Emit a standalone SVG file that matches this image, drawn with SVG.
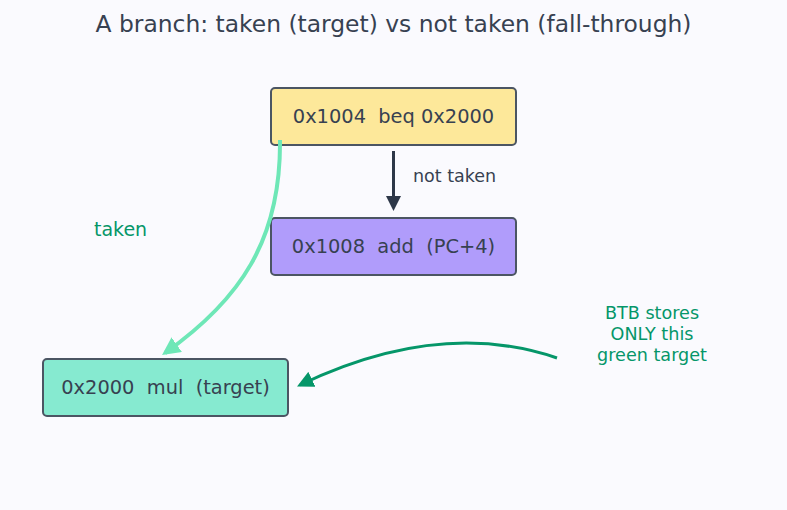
<svg xmlns="http://www.w3.org/2000/svg" width="787" height="510" viewBox="0 0 787 510">
<style>
text{font-family:"DejaVu Sans",sans-serif;white-space:pre}
.box{stroke:#4b5563;stroke-width:2}
.lbl{font-size:19.4px;fill:#374151;text-anchor:middle}
.g{fill:#059669}
.btb{font-size:17.6px;text-anchor:middle}
</style>
<defs>
<marker id="ad" viewBox="0 0 10 10" refX="8" refY="5" markerWidth="5" markerHeight="5.5" orient="auto" markerUnits="strokeWidth"><path d="M0,0L10,5L0,10z" fill="#2d3748"/></marker>
<marker id="al" viewBox="0 0 10 10" refX="8" refY="5" markerWidth="4.5" markerHeight="4.5" orient="auto" markerUnits="strokeWidth"><path d="M0,0L10,5L0,10z" fill="#6ee7b7"/></marker>
<marker id="ag" viewBox="0 0 10 10" refX="8" refY="5" markerWidth="5.5" markerHeight="5.5" orient="auto" markerUnits="strokeWidth"><path d="M0,0L10,5L0,10z" fill="#059669"/></marker>
</defs>
<rect width="787" height="510" fill="#fafafe"/>
<text x="393.5" y="32" font-size="23.4" fill="#374151" text-anchor="middle">A branch: taken (target) vs not taken (fall-through)</text>
<g id="n1"><rect class="box" x="271" y="88" width="245" height="57" rx="4" fill="#fde89a"/><text class="lbl" x="393.5" y="123">0x1004  beq 0x2000</text></g>
<g id="n2"><rect class="box" x="271" y="218" width="245" height="57" rx="4" fill="#b09cfb"/><text class="lbl" x="393.5" y="253">0x1008  add  (PC+4)</text></g>
<g id="n3"><rect class="box" x="43" y="359" width="245" height="57" rx="4" fill="#86ead0"/><text class="lbl" x="165.5" y="394">0x2000  mul  (target)</text></g>
<g id="edges" fill="none">
<path d="M393.5,151 V208" stroke="#2d3748" stroke-width="3" marker-end="url(#ad)"/>
<path d="M280,140 C281,240 240,300 165,353" stroke="#6ee7b7" stroke-width="4" marker-end="url(#al)"/>
<path d="M557,358 Q440,318 300,385" stroke="#059669" stroke-width="3" marker-end="url(#ag)"/>
</g>
<text x="413" y="182" font-size="17.5" fill="#374151">not taken</text>
<text x="94" y="236" font-size="19" class="g">taken</text>
<text x="652" y="319" class="g btb">BTB stores</text>
<text x="652" y="340" class="g btb">ONLY this</text>
<text x="652" y="361" class="g btb">green target</text>
</svg>
